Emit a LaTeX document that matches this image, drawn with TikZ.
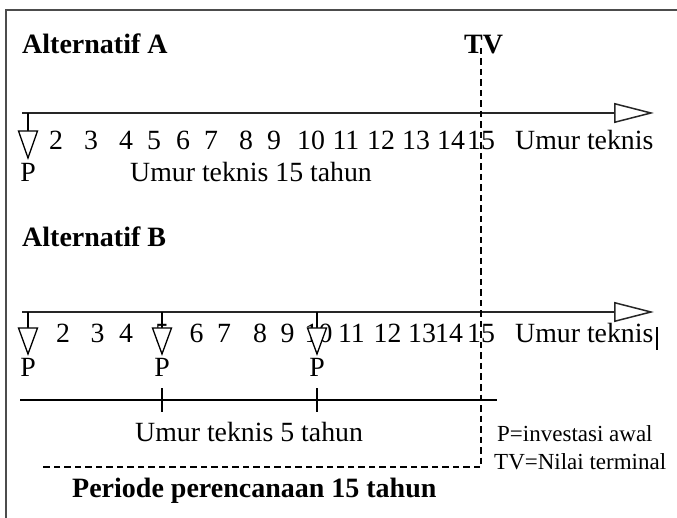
\documentclass[tikz,border=0pt]{standalone}
\usepackage{fontspec}
\setmainfont{Liberation Serif}
\usetikzlibrary{arrows.meta}
\begin{document}
\begin{tikzpicture}[x=1pt,y=-1pt,
  num/.style={anchor=base,inner sep=0pt,font=\fontsize{27.8}{30}\selectfont},
  txt/.style={anchor=base west,inner sep=0pt,font=\fontsize{27.8}{30}\selectfont},
  heading/.style={anchor=base west,inner sep=0pt,font=\fontsize{28}{30}\selectfont\bfseries},
  legend/.style={anchor=base west,inner sep=0pt,font=\fontsize{23}{25}\selectfont},
  axis/.style={line width=1.5pt,draw=black!85,-{Triangle[open,length=40pt,width=20pt,line width=1.5pt]}},
  tick/.style={line width=1.4pt},
  invest/.style={line width=1.3pt,fill=white,line join=miter},
  guide/.style={line width=1.3pt,dash pattern=on 6.5pt off 4pt},
  span/.style={line width=1.4pt},
]
\useasboundingbox (0,0) rectangle (677,518);

% outer frame (only top and left edges fall inside the page)
\coordinate (frTR) at (677,10);
\coordinate (frTL) at (6,10);
\coordinate (frBL) at (6,518);
\draw[line width=2pt,black!70] (frTR) -- (frTL) -- (frBL);

% ---------- Alternative A ----------
\node[heading] (altA) at (22,54) {Alternatif A};
\node[heading] (tv) at (464,54) {TV};

\coordinate (a0) at (22,113);
\coordinate (a1) at (654,113);
\draw[axis] (a0) -- (a1);

\foreach \n/\x in {2/56,3/91,4/126,5/154,6/183,7/211,8/246,9/274,10/311,11/346,12/381,13/416,14/451,15/481}
  \node[num] (na\n) at (\x,150) {\n};
\node[txt] (umurA) at (515,150) {Umur teknis};

% initial investment of A
\coordinate (pa) at (28,113);
\coordinate (pat) at (28,131);
\draw[tick] (pa) -- (pat);
\draw[invest] (18.5,131) -- (37.5,131) -- (28,158) -- cycle;
\node[num] (PA) at (28,182) {P};
\node[txt] (lifeA) at (130,182) {Umur teknis 15 tahun};

% ---------- Alternative B ----------
\node[heading] (altB) at (22,247) {Alternatif B};

\coordinate (b0) at (22,312);
\coordinate (b1) at (654,312);
\draw[axis] (b0) -- (b1);

\foreach \n/\x in {2/63,3/97.5,4/126,5/162,6/196.5,7/224,8/260,9/287.5,10/318.5,11/351.5,12/387.5,13/422,14/449,15/481}
  \node[num] (nb\n) at (\x,343) {\n};
\node[txt] (umurB) at (515,343) {Umur teknis};
\coordinate (curT) at (657,327);
\coordinate (curB) at (657,350);
\draw[line width=1.4pt] (curT) -- (curB);

% reinvestments of B every 5 years
\foreach \k/\x in {1/28,2/162,3/317}{
  \coordinate (pb\k) at (\x,312);
  \coordinate (pbt\k) at (\x,328);
  \draw[tick] (pb\k) -- (pbt\k);
  \draw[invest] (\x-9.5,328) -- (\x+9.5,328) -- (\x,354) -- cycle;
  \node[num] (PB\k) at (\x,377) {P};
}

% span of the 5-year technical life
\coordinate (s0) at (20,400);
\coordinate (s1) at (497,400);
\draw[span] (s0) -- (s1);
\foreach \k/\x in {1/162,2/317}{
  \coordinate (st\k) at (\x,388);
  \coordinate (sb\k) at (\x,412);
  \draw[span] (st\k) -- (sb\k);
}
\node[txt] (lifeB) at (135,441) {Umur teknis 5 tahun};

% planning horizon
\coordinate (tvtop) at (481,48);
\coordinate (plan0) at (42,467);
\draw[guide] (tvtop) |- (plan0);
\node[heading] (plan) at (72,497) {Periode perencanaan 15 tahun};

% legend
\node[legend] (legP) at (497,441) {P=investasi awal};
\node[legend] (legTV) at (494,469) {TV=Nilai terminal};
\end{tikzpicture}
\end{document}
